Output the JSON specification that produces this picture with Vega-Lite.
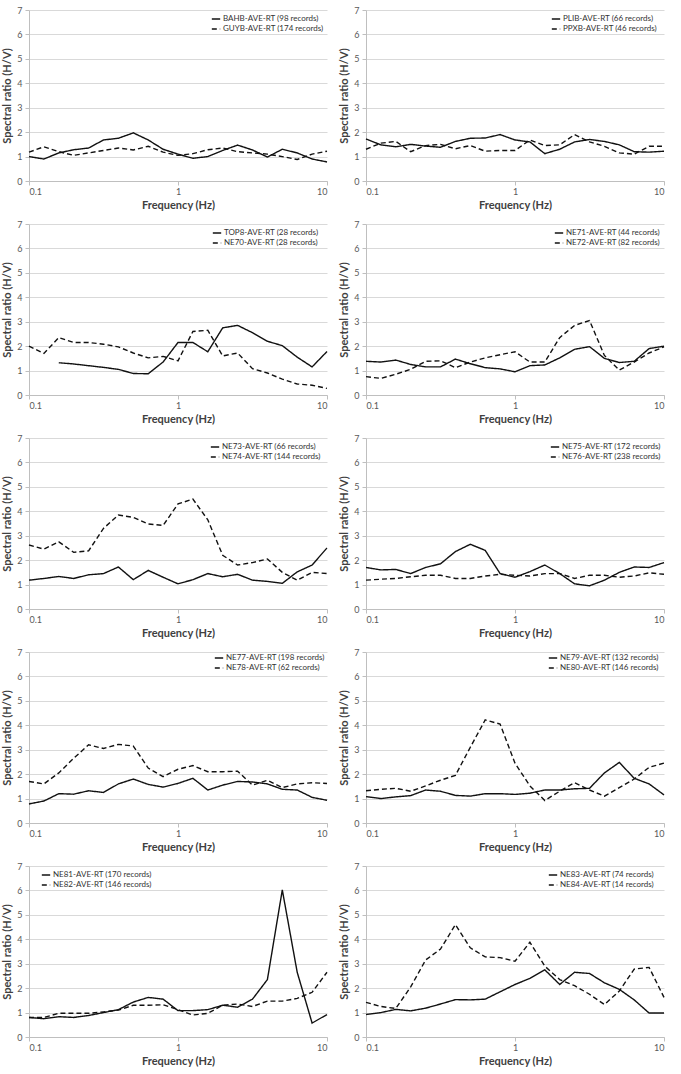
{
"$schema": "https://vega.github.io/schema/vega-lite/v6.json",
"padding": {"left": 1, "top": 6, "right": 5, "bottom": 2},
"config": {
 "font": "Lato",
 "view": {"stroke": null},
 "axis": {"labelFont": "Lato", "labelFontSize": 9, "labelColor": "#595959", "titleFont": "Lato", "titleFontSize": 11, "titleFontWeight": "bold", "titleColor": "#404040", "domainColor": "#bfbfbf", "tickColor": "#bfbfbf", "tickSize": 4, "labelPadding": 2, "gridColor": "#d9d9d9", "gridWidth": 1},
 "axisX": {"grid": false, "titlePadding": 3},
 "axisY": {"grid": true, "titlePadding": 4, "labelPadding": 3},
 "legend": {"orient": "none", "legendY": 4, "padding": 0, "labelFont": "Lato", "labelFontSize": 8, "labelColor": "#333333", "symbolType": "stroke", "symbolSize": 70, "symbolStrokeWidth": 1.3, "symbolStrokeColor": "#111111", "rowPadding": 1, "labelLimit": 0, "labelOffset": 2}
},
"resolve": {"scale": {"strokeDash": "independent"}, "legend": {"strokeDash": "independent"}},
"columns": 2,
"spacing": {"row": 10, "column": 8},
"datasets": {
"p1": [
{"s":"BAHB-AVE-RT (98 records)","f":0.1,"v":1.0},{"s":"BAHB-AVE-RT (98 records)","f":0.1259,"v":0.9},{"s":"BAHB-AVE-RT (98 records)","f":0.1585,"v":1.15},{"s":"BAHB-AVE-RT (98 records)","f":0.1995,"v":1.28},{"s":"BAHB-AVE-RT (98 records)","f":0.2512,"v":1.35},{"s":"BAHB-AVE-RT (98 records)","f":0.3162,"v":1.68},{"s":"BAHB-AVE-RT (98 records)","f":0.3981,"v":1.75},{"s":"BAHB-AVE-RT (98 records)","f":0.5012,"v":1.97},{"s":"BAHB-AVE-RT (98 records)","f":0.631,"v":1.68},{"s":"BAHB-AVE-RT (98 records)","f":0.7943,"v":1.3},{"s":"BAHB-AVE-RT (98 records)","f":1,"v":1.1},{"s":"BAHB-AVE-RT (98 records)","f":1.2589,"v":0.93},{"s":"BAHB-AVE-RT (98 records)","f":1.5849,"v":1.0},{"s":"BAHB-AVE-RT (98 records)","f":1.9953,"v":1.25},{"s":"BAHB-AVE-RT (98 records)","f":2.5119,"v":1.47},{"s":"BAHB-AVE-RT (98 records)","f":3.1623,"v":1.27},{"s":"BAHB-AVE-RT (98 records)","f":3.9811,"v":0.98},{"s":"BAHB-AVE-RT (98 records)","f":5.0119,"v":1.3},{"s":"BAHB-AVE-RT (98 records)","f":6.3096,"v":1.15},{"s":"BAHB-AVE-RT (98 records)","f":7.9433,"v":0.9},{"s":"BAHB-AVE-RT (98 records)","f":10,"v":0.78},
{"s":"GUYB-AVE-RT (174 records)","f":0.1,"v":1.18},{"s":"GUYB-AVE-RT (174 records)","f":0.1259,"v":1.4},{"s":"GUYB-AVE-RT (174 records)","f":0.1585,"v":1.2},{"s":"GUYB-AVE-RT (174 records)","f":0.1995,"v":1.05},{"s":"GUYB-AVE-RT (174 records)","f":0.2512,"v":1.15},{"s":"GUYB-AVE-RT (174 records)","f":0.3162,"v":1.25},{"s":"GUYB-AVE-RT (174 records)","f":0.3981,"v":1.35},{"s":"GUYB-AVE-RT (174 records)","f":0.5012,"v":1.27},{"s":"GUYB-AVE-RT (174 records)","f":0.631,"v":1.42},{"s":"GUYB-AVE-RT (174 records)","f":0.7943,"v":1.18},{"s":"GUYB-AVE-RT (174 records)","f":1,"v":1.05},{"s":"GUYB-AVE-RT (174 records)","f":1.2589,"v":1.12},{"s":"GUYB-AVE-RT (174 records)","f":1.5849,"v":1.28},{"s":"GUYB-AVE-RT (174 records)","f":1.9953,"v":1.35},{"s":"GUYB-AVE-RT (174 records)","f":2.5119,"v":1.2},{"s":"GUYB-AVE-RT (174 records)","f":3.1623,"v":1.15},{"s":"GUYB-AVE-RT (174 records)","f":3.9811,"v":1.1},{"s":"GUYB-AVE-RT (174 records)","f":5.0119,"v":1.0},{"s":"GUYB-AVE-RT (174 records)","f":6.3096,"v":0.88},{"s":"GUYB-AVE-RT (174 records)","f":7.9433,"v":1.1},{"s":"GUYB-AVE-RT (174 records)","f":10,"v":1.22}
],
"p2": [
{"s":"PLIB-AVE-RT (66 records)","f":0.1,"v":1.72},{"s":"PLIB-AVE-RT (66 records)","f":0.1259,"v":1.48},{"s":"PLIB-AVE-RT (66 records)","f":0.1585,"v":1.4},{"s":"PLIB-AVE-RT (66 records)","f":0.1995,"v":1.5},{"s":"PLIB-AVE-RT (66 records)","f":0.2512,"v":1.43},{"s":"PLIB-AVE-RT (66 records)","f":0.3162,"v":1.38},{"s":"PLIB-AVE-RT (66 records)","f":0.3981,"v":1.62},{"s":"PLIB-AVE-RT (66 records)","f":0.5012,"v":1.75},{"s":"PLIB-AVE-RT (66 records)","f":0.631,"v":1.76},{"s":"PLIB-AVE-RT (66 records)","f":0.7943,"v":1.9},{"s":"PLIB-AVE-RT (66 records)","f":1,"v":1.68},{"s":"PLIB-AVE-RT (66 records)","f":1.2589,"v":1.6},{"s":"PLIB-AVE-RT (66 records)","f":1.5849,"v":1.12},{"s":"PLIB-AVE-RT (66 records)","f":1.9953,"v":1.3},{"s":"PLIB-AVE-RT (66 records)","f":2.5119,"v":1.6},{"s":"PLIB-AVE-RT (66 records)","f":3.1623,"v":1.7},{"s":"PLIB-AVE-RT (66 records)","f":3.9811,"v":1.62},{"s":"PLIB-AVE-RT (66 records)","f":5.0119,"v":1.48},{"s":"PLIB-AVE-RT (66 records)","f":6.3096,"v":1.2},{"s":"PLIB-AVE-RT (66 records)","f":7.9433,"v":1.18},{"s":"PLIB-AVE-RT (66 records)","f":10,"v":1.22},
{"s":"PPXB-AVE-RT (46 records)","f":0.1,"v":1.3},{"s":"PPXB-AVE-RT (46 records)","f":0.1259,"v":1.55},{"s":"PPXB-AVE-RT (46 records)","f":0.1585,"v":1.62},{"s":"PPXB-AVE-RT (46 records)","f":0.1995,"v":1.2},{"s":"PPXB-AVE-RT (46 records)","f":0.2512,"v":1.45},{"s":"PPXB-AVE-RT (46 records)","f":0.3162,"v":1.5},{"s":"PPXB-AVE-RT (46 records)","f":0.3981,"v":1.32},{"s":"PPXB-AVE-RT (46 records)","f":0.5012,"v":1.45},{"s":"PPXB-AVE-RT (46 records)","f":0.631,"v":1.22},{"s":"PPXB-AVE-RT (46 records)","f":0.7943,"v":1.25},{"s":"PPXB-AVE-RT (46 records)","f":1,"v":1.25},{"s":"PPXB-AVE-RT (46 records)","f":1.2589,"v":1.68},{"s":"PPXB-AVE-RT (46 records)","f":1.5849,"v":1.45},{"s":"PPXB-AVE-RT (46 records)","f":1.9953,"v":1.48},{"s":"PPXB-AVE-RT (46 records)","f":2.5119,"v":1.9},{"s":"PPXB-AVE-RT (46 records)","f":3.1623,"v":1.6},{"s":"PPXB-AVE-RT (46 records)","f":3.9811,"v":1.42},{"s":"PPXB-AVE-RT (46 records)","f":5.0119,"v":1.15},{"s":"PPXB-AVE-RT (46 records)","f":6.3096,"v":1.1},{"s":"PPXB-AVE-RT (46 records)","f":7.9433,"v":1.42},{"s":"PPXB-AVE-RT (46 records)","f":10,"v":1.42}
],
"p3": [
{"s":"TOP8-AVE-RT (28 records)","f":0.1585,"v":1.32},{"s":"TOP8-AVE-RT (28 records)","f":0.1995,"v":1.27},{"s":"TOP8-AVE-RT (28 records)","f":0.2512,"v":1.2},{"s":"TOP8-AVE-RT (28 records)","f":0.3162,"v":1.13},{"s":"TOP8-AVE-RT (28 records)","f":0.3981,"v":1.05},{"s":"TOP8-AVE-RT (28 records)","f":0.5012,"v":0.88},{"s":"TOP8-AVE-RT (28 records)","f":0.631,"v":0.87},{"s":"TOP8-AVE-RT (28 records)","f":0.7943,"v":1.35},{"s":"TOP8-AVE-RT (28 records)","f":1,"v":2.15},{"s":"TOP8-AVE-RT (28 records)","f":1.2589,"v":2.15},{"s":"TOP8-AVE-RT (28 records)","f":1.5849,"v":1.77},{"s":"TOP8-AVE-RT (28 records)","f":1.9953,"v":2.75},{"s":"TOP8-AVE-RT (28 records)","f":2.5119,"v":2.85},{"s":"TOP8-AVE-RT (28 records)","f":3.1623,"v":2.55},{"s":"TOP8-AVE-RT (28 records)","f":3.9811,"v":2.2},{"s":"TOP8-AVE-RT (28 records)","f":5.0119,"v":2.02},{"s":"TOP8-AVE-RT (28 records)","f":6.3096,"v":1.55},{"s":"TOP8-AVE-RT (28 records)","f":7.9433,"v":1.15},{"s":"TOP8-AVE-RT (28 records)","f":10,"v":1.78},
{"s":"NE70-AVE-RT (28 records)","f":0.1,"v":2.0},{"s":"NE70-AVE-RT (28 records)","f":0.1259,"v":1.7},{"s":"NE70-AVE-RT (28 records)","f":0.1585,"v":2.35},{"s":"NE70-AVE-RT (28 records)","f":0.1995,"v":2.15},{"s":"NE70-AVE-RT (28 records)","f":0.2512,"v":2.15},{"s":"NE70-AVE-RT (28 records)","f":0.3162,"v":2.08},{"s":"NE70-AVE-RT (28 records)","f":0.3981,"v":1.97},{"s":"NE70-AVE-RT (28 records)","f":0.5012,"v":1.72},{"s":"NE70-AVE-RT (28 records)","f":0.631,"v":1.52},{"s":"NE70-AVE-RT (28 records)","f":0.7943,"v":1.58},{"s":"NE70-AVE-RT (28 records)","f":1,"v":1.4},{"s":"NE70-AVE-RT (28 records)","f":1.2589,"v":2.6},{"s":"NE70-AVE-RT (28 records)","f":1.5849,"v":2.65},{"s":"NE70-AVE-RT (28 records)","f":1.9953,"v":1.6},{"s":"NE70-AVE-RT (28 records)","f":2.5119,"v":1.72},{"s":"NE70-AVE-RT (28 records)","f":3.1623,"v":1.08},{"s":"NE70-AVE-RT (28 records)","f":3.9811,"v":0.9},{"s":"NE70-AVE-RT (28 records)","f":5.0119,"v":0.65},{"s":"NE70-AVE-RT (28 records)","f":6.3096,"v":0.45},{"s":"NE70-AVE-RT (28 records)","f":7.9433,"v":0.4},{"s":"NE70-AVE-RT (28 records)","f":10,"v":0.27}
],
"p4": [
{"s":"NE71-AVE-RT (44 records)","f":0.1,"v":1.38},{"s":"NE71-AVE-RT (44 records)","f":0.1259,"v":1.35},{"s":"NE71-AVE-RT (44 records)","f":0.1585,"v":1.43},{"s":"NE71-AVE-RT (44 records)","f":0.1995,"v":1.25},{"s":"NE71-AVE-RT (44 records)","f":0.2512,"v":1.15},{"s":"NE71-AVE-RT (44 records)","f":0.3162,"v":1.15},{"s":"NE71-AVE-RT (44 records)","f":0.3981,"v":1.47},{"s":"NE71-AVE-RT (44 records)","f":0.5012,"v":1.28},{"s":"NE71-AVE-RT (44 records)","f":0.631,"v":1.12},{"s":"NE71-AVE-RT (44 records)","f":0.7943,"v":1.07},{"s":"NE71-AVE-RT (44 records)","f":1,"v":0.95},{"s":"NE71-AVE-RT (44 records)","f":1.2589,"v":1.2},{"s":"NE71-AVE-RT (44 records)","f":1.5849,"v":1.23},{"s":"NE71-AVE-RT (44 records)","f":1.9953,"v":1.52},{"s":"NE71-AVE-RT (44 records)","f":2.5119,"v":1.87},{"s":"NE71-AVE-RT (44 records)","f":3.1623,"v":1.98},{"s":"NE71-AVE-RT (44 records)","f":3.9811,"v":1.5},{"s":"NE71-AVE-RT (44 records)","f":5.0119,"v":1.33},{"s":"NE71-AVE-RT (44 records)","f":6.3096,"v":1.38},{"s":"NE71-AVE-RT (44 records)","f":7.9433,"v":1.9},{"s":"NE71-AVE-RT (44 records)","f":10,"v":2.0},
{"s":"NE72-AVE-RT (82 records)","f":0.1,"v":0.75},{"s":"NE72-AVE-RT (82 records)","f":0.1259,"v":0.68},{"s":"NE72-AVE-RT (82 records)","f":0.1585,"v":0.85},{"s":"NE72-AVE-RT (82 records)","f":0.1995,"v":1.05},{"s":"NE72-AVE-RT (82 records)","f":0.2512,"v":1.38},{"s":"NE72-AVE-RT (82 records)","f":0.3162,"v":1.4},{"s":"NE72-AVE-RT (82 records)","f":0.3981,"v":1.12},{"s":"NE72-AVE-RT (82 records)","f":0.5012,"v":1.35},{"s":"NE72-AVE-RT (82 records)","f":0.631,"v":1.52},{"s":"NE72-AVE-RT (82 records)","f":0.7943,"v":1.65},{"s":"NE72-AVE-RT (82 records)","f":1,"v":1.77},{"s":"NE72-AVE-RT (82 records)","f":1.2589,"v":1.35},{"s":"NE72-AVE-RT (82 records)","f":1.5849,"v":1.35},{"s":"NE72-AVE-RT (82 records)","f":1.9953,"v":2.35},{"s":"NE72-AVE-RT (82 records)","f":2.5119,"v":2.85},{"s":"NE72-AVE-RT (82 records)","f":3.1623,"v":3.05},{"s":"NE72-AVE-RT (82 records)","f":3.9811,"v":1.62},{"s":"NE72-AVE-RT (82 records)","f":5.0119,"v":1.02},{"s":"NE72-AVE-RT (82 records)","f":6.3096,"v":1.35},{"s":"NE72-AVE-RT (82 records)","f":7.9433,"v":1.72},{"s":"NE72-AVE-RT (82 records)","f":10,"v":1.97}
],
"p5": [
{"s":"NE73-AVE-RT (66 records)","f":0.1,"v":1.18},{"s":"NE73-AVE-RT (66 records)","f":0.1259,"v":1.25},{"s":"NE73-AVE-RT (66 records)","f":0.1585,"v":1.33},{"s":"NE73-AVE-RT (66 records)","f":0.1995,"v":1.25},{"s":"NE73-AVE-RT (66 records)","f":0.2512,"v":1.4},{"s":"NE73-AVE-RT (66 records)","f":0.3162,"v":1.45},{"s":"NE73-AVE-RT (66 records)","f":0.3981,"v":1.72},{"s":"NE73-AVE-RT (66 records)","f":0.5012,"v":1.2},{"s":"NE73-AVE-RT (66 records)","f":0.631,"v":1.58},{"s":"NE73-AVE-RT (66 records)","f":0.7943,"v":1.3},{"s":"NE73-AVE-RT (66 records)","f":1,"v":1.03},{"s":"NE73-AVE-RT (66 records)","f":1.2589,"v":1.2},{"s":"NE73-AVE-RT (66 records)","f":1.5849,"v":1.45},{"s":"NE73-AVE-RT (66 records)","f":1.9953,"v":1.32},{"s":"NE73-AVE-RT (66 records)","f":2.5119,"v":1.42},{"s":"NE73-AVE-RT (66 records)","f":3.1623,"v":1.18},{"s":"NE73-AVE-RT (66 records)","f":3.9811,"v":1.13},{"s":"NE73-AVE-RT (66 records)","f":5.0119,"v":1.05},{"s":"NE73-AVE-RT (66 records)","f":6.3096,"v":1.52},{"s":"NE73-AVE-RT (66 records)","f":7.9433,"v":1.8},{"s":"NE73-AVE-RT (66 records)","f":10,"v":2.5},
{"s":"NE74-AVE-RT (144 records)","f":0.1,"v":2.62},{"s":"NE74-AVE-RT (144 records)","f":0.1259,"v":2.45},{"s":"NE74-AVE-RT (144 records)","f":0.1585,"v":2.75},{"s":"NE74-AVE-RT (144 records)","f":0.1995,"v":2.32},{"s":"NE74-AVE-RT (144 records)","f":0.2512,"v":2.38},{"s":"NE74-AVE-RT (144 records)","f":0.3162,"v":3.3},{"s":"NE74-AVE-RT (144 records)","f":0.3981,"v":3.85},{"s":"NE74-AVE-RT (144 records)","f":0.5012,"v":3.75},{"s":"NE74-AVE-RT (144 records)","f":0.631,"v":3.48},{"s":"NE74-AVE-RT (144 records)","f":0.7943,"v":3.42},{"s":"NE74-AVE-RT (144 records)","f":1,"v":4.3},{"s":"NE74-AVE-RT (144 records)","f":1.2589,"v":4.5},{"s":"NE74-AVE-RT (144 records)","f":1.5849,"v":3.65},{"s":"NE74-AVE-RT (144 records)","f":1.9953,"v":2.2},{"s":"NE74-AVE-RT (144 records)","f":2.5119,"v":1.8},{"s":"NE74-AVE-RT (144 records)","f":3.1623,"v":1.9},{"s":"NE74-AVE-RT (144 records)","f":3.9811,"v":2.05},{"s":"NE74-AVE-RT (144 records)","f":5.0119,"v":1.5},{"s":"NE74-AVE-RT (144 records)","f":6.3096,"v":1.18},{"s":"NE74-AVE-RT (144 records)","f":7.9433,"v":1.5},{"s":"NE74-AVE-RT (144 records)","f":10,"v":1.45}
],
"p6": [
{"s":"NE75-AVE-RT (172 records)","f":0.1,"v":1.7},{"s":"NE75-AVE-RT (172 records)","f":0.1259,"v":1.6},{"s":"NE75-AVE-RT (172 records)","f":0.1585,"v":1.62},{"s":"NE75-AVE-RT (172 records)","f":0.1995,"v":1.45},{"s":"NE75-AVE-RT (172 records)","f":0.2512,"v":1.7},{"s":"NE75-AVE-RT (172 records)","f":0.3162,"v":1.85},{"s":"NE75-AVE-RT (172 records)","f":0.3981,"v":2.35},{"s":"NE75-AVE-RT (172 records)","f":0.5012,"v":2.65},{"s":"NE75-AVE-RT (172 records)","f":0.631,"v":2.4},{"s":"NE75-AVE-RT (172 records)","f":0.7943,"v":1.45},{"s":"NE75-AVE-RT (172 records)","f":1,"v":1.3},{"s":"NE75-AVE-RT (172 records)","f":1.2589,"v":1.53},{"s":"NE75-AVE-RT (172 records)","f":1.5849,"v":1.8},{"s":"NE75-AVE-RT (172 records)","f":1.9953,"v":1.45},{"s":"NE75-AVE-RT (172 records)","f":2.5119,"v":1.03},{"s":"NE75-AVE-RT (172 records)","f":3.1623,"v":0.95},{"s":"NE75-AVE-RT (172 records)","f":3.9811,"v":1.18},{"s":"NE75-AVE-RT (172 records)","f":5.0119,"v":1.5},{"s":"NE75-AVE-RT (172 records)","f":6.3096,"v":1.72},{"s":"NE75-AVE-RT (172 records)","f":7.9433,"v":1.7},{"s":"NE75-AVE-RT (172 records)","f":10,"v":1.9},
{"s":"NE76-AVE-RT (238 records)","f":0.1,"v":1.18},{"s":"NE76-AVE-RT (238 records)","f":0.1259,"v":1.22},{"s":"NE76-AVE-RT (238 records)","f":0.1585,"v":1.25},{"s":"NE76-AVE-RT (238 records)","f":0.1995,"v":1.32},{"s":"NE76-AVE-RT (238 records)","f":0.2512,"v":1.38},{"s":"NE76-AVE-RT (238 records)","f":0.3162,"v":1.38},{"s":"NE76-AVE-RT (238 records)","f":0.3981,"v":1.25},{"s":"NE76-AVE-RT (238 records)","f":0.5012,"v":1.25},{"s":"NE76-AVE-RT (238 records)","f":0.631,"v":1.35},{"s":"NE76-AVE-RT (238 records)","f":0.7943,"v":1.42},{"s":"NE76-AVE-RT (238 records)","f":1,"v":1.38},{"s":"NE76-AVE-RT (238 records)","f":1.2589,"v":1.35},{"s":"NE76-AVE-RT (238 records)","f":1.5849,"v":1.45},{"s":"NE76-AVE-RT (238 records)","f":1.9953,"v":1.45},{"s":"NE76-AVE-RT (238 records)","f":2.5119,"v":1.25},{"s":"NE76-AVE-RT (238 records)","f":3.1623,"v":1.38},{"s":"NE76-AVE-RT (238 records)","f":3.9811,"v":1.38},{"s":"NE76-AVE-RT (238 records)","f":5.0119,"v":1.3},{"s":"NE76-AVE-RT (238 records)","f":6.3096,"v":1.35},{"s":"NE76-AVE-RT (238 records)","f":7.9433,"v":1.48},{"s":"NE76-AVE-RT (238 records)","f":10,"v":1.42}
],
"p7": [
{"s":"NE77-AVE-RT (198 records)","f":0.1,"v":0.78},{"s":"NE77-AVE-RT (198 records)","f":0.1259,"v":0.9},{"s":"NE77-AVE-RT (198 records)","f":0.1585,"v":1.2},{"s":"NE77-AVE-RT (198 records)","f":0.1995,"v":1.18},{"s":"NE77-AVE-RT (198 records)","f":0.2512,"v":1.32},{"s":"NE77-AVE-RT (198 records)","f":0.3162,"v":1.25},{"s":"NE77-AVE-RT (198 records)","f":0.3981,"v":1.6},{"s":"NE77-AVE-RT (198 records)","f":0.5012,"v":1.8},{"s":"NE77-AVE-RT (198 records)","f":0.631,"v":1.58},{"s":"NE77-AVE-RT (198 records)","f":0.7943,"v":1.47},{"s":"NE77-AVE-RT (198 records)","f":1,"v":1.62},{"s":"NE77-AVE-RT (198 records)","f":1.2589,"v":1.83},{"s":"NE77-AVE-RT (198 records)","f":1.5849,"v":1.35},{"s":"NE77-AVE-RT (198 records)","f":1.9953,"v":1.55},{"s":"NE77-AVE-RT (198 records)","f":2.5119,"v":1.7},{"s":"NE77-AVE-RT (198 records)","f":3.1623,"v":1.68},{"s":"NE77-AVE-RT (198 records)","f":3.9811,"v":1.6},{"s":"NE77-AVE-RT (198 records)","f":5.0119,"v":1.38},{"s":"NE77-AVE-RT (198 records)","f":6.3096,"v":1.35},{"s":"NE77-AVE-RT (198 records)","f":7.9433,"v":1.05},{"s":"NE77-AVE-RT (198 records)","f":10,"v":0.93},
{"s":"NE78-AVE-RT (62 records)","f":0.1,"v":1.7},{"s":"NE78-AVE-RT (62 records)","f":0.1259,"v":1.6},{"s":"NE78-AVE-RT (62 records)","f":0.1585,"v":2.05},{"s":"NE78-AVE-RT (62 records)","f":0.1995,"v":2.65},{"s":"NE78-AVE-RT (62 records)","f":0.2512,"v":3.2},{"s":"NE78-AVE-RT (62 records)","f":0.3162,"v":3.05},{"s":"NE78-AVE-RT (62 records)","f":0.3981,"v":3.22},{"s":"NE78-AVE-RT (62 records)","f":0.5012,"v":3.15},{"s":"NE78-AVE-RT (62 records)","f":0.631,"v":2.25},{"s":"NE78-AVE-RT (62 records)","f":0.7943,"v":1.9},{"s":"NE78-AVE-RT (62 records)","f":1,"v":2.2},{"s":"NE78-AVE-RT (62 records)","f":1.2589,"v":2.35},{"s":"NE78-AVE-RT (62 records)","f":1.5849,"v":2.1},{"s":"NE78-AVE-RT (62 records)","f":1.9953,"v":2.1},{"s":"NE78-AVE-RT (62 records)","f":2.5119,"v":2.12},{"s":"NE78-AVE-RT (62 records)","f":3.1623,"v":1.55},{"s":"NE78-AVE-RT (62 records)","f":3.9811,"v":1.75},{"s":"NE78-AVE-RT (62 records)","f":5.0119,"v":1.45},{"s":"NE78-AVE-RT (62 records)","f":6.3096,"v":1.6},{"s":"NE78-AVE-RT (62 records)","f":7.9433,"v":1.65},{"s":"NE78-AVE-RT (62 records)","f":10,"v":1.62}
],
"p8": [
{"s":"NE79-AVE-RT (132 records)","f":0.1,"v":1.08},{"s":"NE79-AVE-RT (132 records)","f":0.1259,"v":1.0},{"s":"NE79-AVE-RT (132 records)","f":0.1585,"v":1.07},{"s":"NE79-AVE-RT (132 records)","f":0.1995,"v":1.12},{"s":"NE79-AVE-RT (132 records)","f":0.2512,"v":1.35},{"s":"NE79-AVE-RT (132 records)","f":0.3162,"v":1.3},{"s":"NE79-AVE-RT (132 records)","f":0.3981,"v":1.13},{"s":"NE79-AVE-RT (132 records)","f":0.5012,"v":1.1},{"s":"NE79-AVE-RT (132 records)","f":0.631,"v":1.2},{"s":"NE79-AVE-RT (132 records)","f":0.7943,"v":1.2},{"s":"NE79-AVE-RT (132 records)","f":1,"v":1.17},{"s":"NE79-AVE-RT (132 records)","f":1.2589,"v":1.22},{"s":"NE79-AVE-RT (132 records)","f":1.5849,"v":1.35},{"s":"NE79-AVE-RT (132 records)","f":1.9953,"v":1.35},{"s":"NE79-AVE-RT (132 records)","f":2.5119,"v":1.4},{"s":"NE79-AVE-RT (132 records)","f":3.1623,"v":1.42},{"s":"NE79-AVE-RT (132 records)","f":3.9811,"v":2.05},{"s":"NE79-AVE-RT (132 records)","f":5.0119,"v":2.48},{"s":"NE79-AVE-RT (132 records)","f":6.3096,"v":1.83},{"s":"NE79-AVE-RT (132 records)","f":7.9433,"v":1.6},{"s":"NE79-AVE-RT (132 records)","f":10,"v":1.15},
{"s":"NE80-AVE-RT (146 records)","f":0.1,"v":1.32},{"s":"NE80-AVE-RT (146 records)","f":0.1259,"v":1.38},{"s":"NE80-AVE-RT (146 records)","f":0.1585,"v":1.42},{"s":"NE80-AVE-RT (146 records)","f":0.1995,"v":1.3},{"s":"NE80-AVE-RT (146 records)","f":0.2512,"v":1.52},{"s":"NE80-AVE-RT (146 records)","f":0.3162,"v":1.75},{"s":"NE80-AVE-RT (146 records)","f":0.3981,"v":1.95},{"s":"NE80-AVE-RT (146 records)","f":0.5012,"v":3.1},{"s":"NE80-AVE-RT (146 records)","f":0.631,"v":4.22},{"s":"NE80-AVE-RT (146 records)","f":0.7943,"v":4.05},{"s":"NE80-AVE-RT (146 records)","f":1,"v":2.45},{"s":"NE80-AVE-RT (146 records)","f":1.2589,"v":1.52},{"s":"NE80-AVE-RT (146 records)","f":1.5849,"v":0.92},{"s":"NE80-AVE-RT (146 records)","f":1.9953,"v":1.3},{"s":"NE80-AVE-RT (146 records)","f":2.5119,"v":1.65},{"s":"NE80-AVE-RT (146 records)","f":3.1623,"v":1.35},{"s":"NE80-AVE-RT (146 records)","f":3.9811,"v":1.1},{"s":"NE80-AVE-RT (146 records)","f":5.0119,"v":1.45},{"s":"NE80-AVE-RT (146 records)","f":6.3096,"v":1.8},{"s":"NE80-AVE-RT (146 records)","f":7.9433,"v":2.28},{"s":"NE80-AVE-RT (146 records)","f":10,"v":2.45}
],
"p9": [
{"s":"NE81-AVE-RT (170 records)","f":0.1,"v":0.8},{"s":"NE81-AVE-RT (170 records)","f":0.1259,"v":0.75},{"s":"NE81-AVE-RT (170 records)","f":0.1585,"v":0.83},{"s":"NE81-AVE-RT (170 records)","f":0.1995,"v":0.8},{"s":"NE81-AVE-RT (170 records)","f":0.2512,"v":0.88},{"s":"NE81-AVE-RT (170 records)","f":0.3162,"v":1.0},{"s":"NE81-AVE-RT (170 records)","f":0.3981,"v":1.12},{"s":"NE81-AVE-RT (170 records)","f":0.5012,"v":1.43},{"s":"NE81-AVE-RT (170 records)","f":0.631,"v":1.62},{"s":"NE81-AVE-RT (170 records)","f":0.7943,"v":1.55},{"s":"NE81-AVE-RT (170 records)","f":1,"v":1.08},{"s":"NE81-AVE-RT (170 records)","f":1.2589,"v":1.08},{"s":"NE81-AVE-RT (170 records)","f":1.5849,"v":1.12},{"s":"NE81-AVE-RT (170 records)","f":1.9953,"v":1.3},{"s":"NE81-AVE-RT (170 records)","f":2.5119,"v":1.22},{"s":"NE81-AVE-RT (170 records)","f":3.1623,"v":1.55},{"s":"NE81-AVE-RT (170 records)","f":3.9811,"v":2.35},{"s":"NE81-AVE-RT (170 records)","f":5.0119,"v":6.02},{"s":"NE81-AVE-RT (170 records)","f":6.3096,"v":2.65},{"s":"NE81-AVE-RT (170 records)","f":7.9433,"v":0.57},{"s":"NE81-AVE-RT (170 records)","f":10,"v":0.92},
{"s":"NE82-AVE-RT (146 records)","f":0.1,"v":0.8},{"s":"NE82-AVE-RT (146 records)","f":0.1259,"v":0.8},{"s":"NE82-AVE-RT (146 records)","f":0.1585,"v":0.97},{"s":"NE82-AVE-RT (146 records)","f":0.1995,"v":0.97},{"s":"NE82-AVE-RT (146 records)","f":0.2512,"v":0.97},{"s":"NE82-AVE-RT (146 records)","f":0.3162,"v":1.03},{"s":"NE82-AVE-RT (146 records)","f":0.3981,"v":1.1},{"s":"NE82-AVE-RT (146 records)","f":0.5012,"v":1.3},{"s":"NE82-AVE-RT (146 records)","f":0.631,"v":1.3},{"s":"NE82-AVE-RT (146 records)","f":0.7943,"v":1.32},{"s":"NE82-AVE-RT (146 records)","f":1,"v":1.12},{"s":"NE82-AVE-RT (146 records)","f":1.2589,"v":0.9},{"s":"NE82-AVE-RT (146 records)","f":1.5849,"v":0.97},{"s":"NE82-AVE-RT (146 records)","f":1.9953,"v":1.3},{"s":"NE82-AVE-RT (146 records)","f":2.5119,"v":1.35},{"s":"NE82-AVE-RT (146 records)","f":3.1623,"v":1.25},{"s":"NE82-AVE-RT (146 records)","f":3.9811,"v":1.47},{"s":"NE82-AVE-RT (146 records)","f":5.0119,"v":1.47},{"s":"NE82-AVE-RT (146 records)","f":6.3096,"v":1.58},{"s":"NE82-AVE-RT (146 records)","f":7.9433,"v":1.83},{"s":"NE82-AVE-RT (146 records)","f":10,"v":2.65}
],
"p10": [
{"s":"NE83-AVE-RT (74 records)","f":0.1,"v":0.92},{"s":"NE83-AVE-RT (74 records)","f":0.1259,"v":1.0},{"s":"NE83-AVE-RT (74 records)","f":0.1585,"v":1.13},{"s":"NE83-AVE-RT (74 records)","f":0.1995,"v":1.07},{"s":"NE83-AVE-RT (74 records)","f":0.2512,"v":1.18},{"s":"NE83-AVE-RT (74 records)","f":0.3162,"v":1.35},{"s":"NE83-AVE-RT (74 records)","f":0.3981,"v":1.53},{"s":"NE83-AVE-RT (74 records)","f":0.5012,"v":1.52},{"s":"NE83-AVE-RT (74 records)","f":0.631,"v":1.55},{"s":"NE83-AVE-RT (74 records)","f":0.7943,"v":1.85},{"s":"NE83-AVE-RT (74 records)","f":1,"v":2.15},{"s":"NE83-AVE-RT (74 records)","f":1.2589,"v":2.4},{"s":"NE83-AVE-RT (74 records)","f":1.5849,"v":2.75},{"s":"NE83-AVE-RT (74 records)","f":1.9953,"v":2.15},{"s":"NE83-AVE-RT (74 records)","f":2.5119,"v":2.65},{"s":"NE83-AVE-RT (74 records)","f":3.1623,"v":2.6},{"s":"NE83-AVE-RT (74 records)","f":3.9811,"v":2.22},{"s":"NE83-AVE-RT (74 records)","f":5.0119,"v":1.95},{"s":"NE83-AVE-RT (74 records)","f":6.3096,"v":1.52},{"s":"NE83-AVE-RT (74 records)","f":7.9433,"v":0.98},{"s":"NE83-AVE-RT (74 records)","f":10,"v":0.98},
{"s":"NE84-AVE-RT (14 records)","f":0.1,"v":1.42},{"s":"NE84-AVE-RT (14 records)","f":0.1259,"v":1.25},{"s":"NE84-AVE-RT (14 records)","f":0.1585,"v":1.17},{"s":"NE84-AVE-RT (14 records)","f":0.1995,"v":2.05},{"s":"NE84-AVE-RT (14 records)","f":0.2512,"v":3.15},{"s":"NE84-AVE-RT (14 records)","f":0.3162,"v":3.6},{"s":"NE84-AVE-RT (14 records)","f":0.3981,"v":4.6},{"s":"NE84-AVE-RT (14 records)","f":0.5012,"v":3.65},{"s":"NE84-AVE-RT (14 records)","f":0.631,"v":3.28},{"s":"NE84-AVE-RT (14 records)","f":0.7943,"v":3.25},{"s":"NE84-AVE-RT (14 records)","f":1,"v":3.1},{"s":"NE84-AVE-RT (14 records)","f":1.2589,"v":3.88},{"s":"NE84-AVE-RT (14 records)","f":1.5849,"v":2.9},{"s":"NE84-AVE-RT (14 records)","f":1.9953,"v":2.35},{"s":"NE84-AVE-RT (14 records)","f":2.5119,"v":2.1},{"s":"NE84-AVE-RT (14 records)","f":3.1623,"v":1.75},{"s":"NE84-AVE-RT (14 records)","f":3.9811,"v":1.33},{"s":"NE84-AVE-RT (14 records)","f":5.0119,"v":1.88},{"s":"NE84-AVE-RT (14 records)","f":6.3096,"v":2.78},{"s":"NE84-AVE-RT (14 records)","f":7.9433,"v":2.85},{"s":"NE84-AVE-RT (14 records)","f":10,"v":1.62}
]
},
"concat": [
{"data": {"name": "p1"}, "width": 298, "height": 171, "mark": {"type": "line", "color": "#111111", "strokeWidth": 1.4},
 "encoding": {"x": {"field": "f", "type": "quantitative", "scale": {"type": "log", "domain": [0.1, 10]}, "axis": {"values": [0.1, 1, 10], "format": "~g", "title": "Frequency (Hz)"}},
  "y": {"field": "v", "type": "quantitative", "scale": {"domain": [0, 7]}, "axis": {"values": [0, 1, 2, 3, 4, 5, 6, 7], "title": "Spectral ratio (H/V)"}},
  "strokeDash": {"field": "s", "type": "nominal", "sort": null, "scale": {"range": [[1, 0], [5, 3]]}, "legend": {"title": null, "legendX": 182}}}},
{"data": {"name": "p2"}, "width": 298, "height": 171, "mark": {"type": "line", "color": "#111111", "strokeWidth": 1.4},
 "encoding": {"x": {"field": "f", "type": "quantitative", "scale": {"type": "log", "domain": [0.1, 10]}, "axis": {"values": [0.1, 1, 10], "format": "~g", "title": "Frequency (Hz)"}},
  "y": {"field": "v", "type": "quantitative", "scale": {"domain": [0, 7]}, "axis": {"values": [0, 1, 2, 3, 4, 5, 6, 7], "title": "Spectral ratio (H/V)"}},
  "strokeDash": {"field": "s", "type": "nominal", "sort": null, "scale": {"range": [[1, 0], [5, 3]]}, "legend": {"title": null, "legendX": 185}}}},
{"data": {"name": "p3"}, "width": 298, "height": 171, "mark": {"type": "line", "color": "#111111", "strokeWidth": 1.4},
 "encoding": {"x": {"field": "f", "type": "quantitative", "scale": {"type": "log", "domain": [0.1, 10]}, "axis": {"values": [0.1, 1, 10], "format": "~g", "title": "Frequency (Hz)"}},
  "y": {"field": "v", "type": "quantitative", "scale": {"domain": [0, 7]}, "axis": {"values": [0, 1, 2, 3, 4, 5, 6, 7], "title": "Spectral ratio (H/V)"}},
  "strokeDash": {"field": "s", "type": "nominal", "sort": null, "scale": {"range": [[1, 0], [5, 3]]}, "legend": {"title": null, "legendX": 183}}}},
{"data": {"name": "p4"}, "width": 298, "height": 171, "mark": {"type": "line", "color": "#111111", "strokeWidth": 1.4},
 "encoding": {"x": {"field": "f", "type": "quantitative", "scale": {"type": "log", "domain": [0.1, 10]}, "axis": {"values": [0.1, 1, 10], "format": "~g", "title": "Frequency (Hz)"}},
  "y": {"field": "v", "type": "quantitative", "scale": {"domain": [0, 7]}, "axis": {"values": [0, 1, 2, 3, 4, 5, 6, 7], "title": "Spectral ratio (H/V)"}},
  "strokeDash": {"field": "s", "type": "nominal", "sort": null, "scale": {"range": [[1, 0], [5, 3]]}, "legend": {"title": null, "legendX": 188}}}},
{"data": {"name": "p5"}, "width": 298, "height": 171, "mark": {"type": "line", "color": "#111111", "strokeWidth": 1.4},
 "encoding": {"x": {"field": "f", "type": "quantitative", "scale": {"type": "log", "domain": [0.1, 10]}, "axis": {"values": [0.1, 1, 10], "format": "~g", "title": "Frequency (Hz)"}},
  "y": {"field": "v", "type": "quantitative", "scale": {"domain": [0, 7]}, "axis": {"values": [0, 1, 2, 3, 4, 5, 6, 7], "title": "Spectral ratio (H/V)"}},
  "strokeDash": {"field": "s", "type": "nominal", "sort": null, "scale": {"range": [[1, 0], [5, 3]]}, "legend": {"title": null, "legendX": 181}}}},
{"data": {"name": "p6"}, "width": 298, "height": 171, "mark": {"type": "line", "color": "#111111", "strokeWidth": 1.4},
 "encoding": {"x": {"field": "f", "type": "quantitative", "scale": {"type": "log", "domain": [0.1, 10]}, "axis": {"values": [0.1, 1, 10], "format": "~g", "title": "Frequency (Hz)"}},
  "y": {"field": "v", "type": "quantitative", "scale": {"domain": [0, 7]}, "axis": {"values": [0, 1, 2, 3, 4, 5, 6, 7], "title": "Spectral ratio (H/V)"}},
  "strokeDash": {"field": "s", "type": "nominal", "sort": null, "scale": {"range": [[1, 0], [5, 3]]}, "legend": {"title": null, "legendX": 184}}}},
{"data": {"name": "p7"}, "width": 298, "height": 171, "mark": {"type": "line", "color": "#111111", "strokeWidth": 1.4},
 "encoding": {"x": {"field": "f", "type": "quantitative", "scale": {"type": "log", "domain": [0.1, 10]}, "axis": {"values": [0.1, 1, 10], "format": "~g", "title": "Frequency (Hz)"}},
  "y": {"field": "v", "type": "quantitative", "scale": {"domain": [0, 7]}, "axis": {"values": [0, 1, 2, 3, 4, 5, 6, 7], "title": "Spectral ratio (H/V)"}},
  "strokeDash": {"field": "s", "type": "nominal", "sort": null, "scale": {"range": [[1, 0], [5, 3]]}, "legend": {"title": null, "legendX": 185, "legendY": 1}}}},
{"data": {"name": "p8"}, "width": 298, "height": 171, "mark": {"type": "line", "color": "#111111", "strokeWidth": 1.4},
 "encoding": {"x": {"field": "f", "type": "quantitative", "scale": {"type": "log", "domain": [0.1, 10]}, "axis": {"values": [0.1, 1, 10], "format": "~g", "title": "Frequency (Hz)"}},
  "y": {"field": "v", "type": "quantitative", "scale": {"domain": [0, 7]}, "axis": {"values": [0, 1, 2, 3, 4, 5, 6, 7], "title": "Spectral ratio (H/V)"}},
  "strokeDash": {"field": "s", "type": "nominal", "sort": null, "scale": {"range": [[1, 0], [5, 3]]}, "legend": {"title": null, "legendX": 182, "legendY": 1}}}},
{"data": {"name": "p9"}, "width": 298, "height": 171, "mark": {"type": "line", "color": "#111111", "strokeWidth": 1.4},
 "encoding": {"x": {"field": "f", "type": "quantitative", "scale": {"type": "log", "domain": [0.1, 10]}, "axis": {"values": [0.1, 1, 10], "format": "~g", "title": "Frequency (Hz)"}},
  "y": {"field": "v", "type": "quantitative", "scale": {"domain": [0, 7]}, "axis": {"values": [0, 1, 2, 3, 4, 5, 6, 7], "title": "Spectral ratio (H/V)"}},
  "strokeDash": {"field": "s", "type": "nominal", "sort": null, "scale": {"range": [[1, 0], [5, 3]]}, "legend": {"title": null, "legendX": 12, "legendY": 4}}}},
{"data": {"name": "p10"}, "width": 298, "height": 171, "mark": {"type": "line", "color": "#111111", "strokeWidth": 1.4},
 "encoding": {"x": {"field": "f", "type": "quantitative", "scale": {"type": "log", "domain": [0.1, 10]}, "axis": {"values": [0.1, 1, 10], "format": "~g", "title": "Frequency (Hz)"}},
  "y": {"field": "v", "type": "quantitative", "scale": {"domain": [0, 7]}, "axis": {"values": [0, 1, 2, 3, 4, 5, 6, 7], "title": "Spectral ratio (H/V)"}},
  "strokeDash": {"field": "s", "type": "nominal", "sort": null, "scale": {"range": [[1, 0], [5, 3]]}, "legend": {"title": null, "legendX": 182, "legendY": 4}}}}
]
}
